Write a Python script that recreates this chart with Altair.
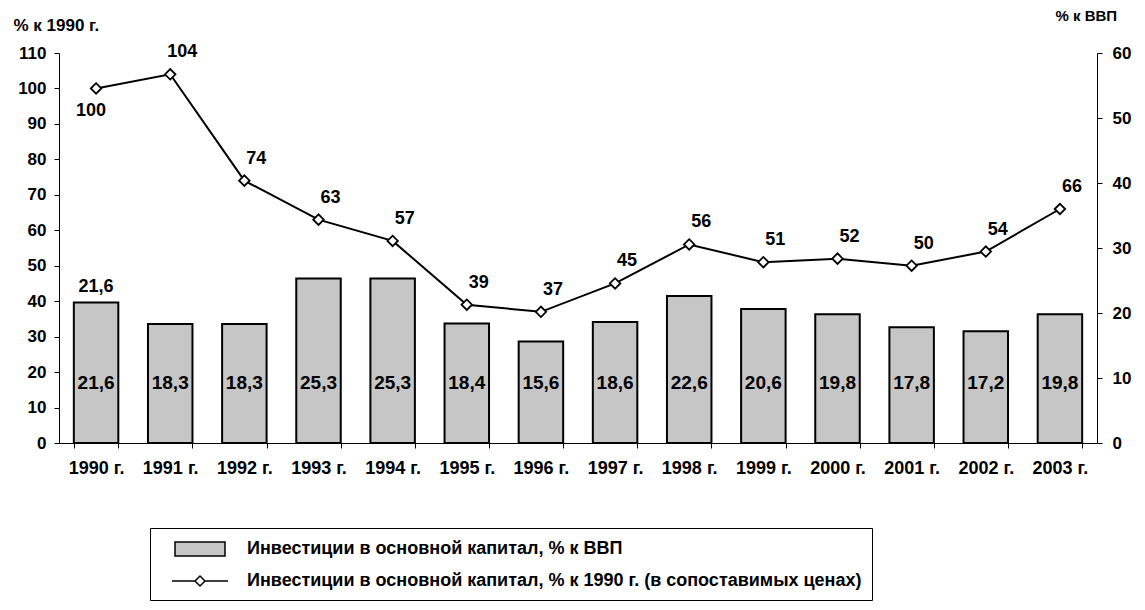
import altair as alt
import pandas as pd

years = ["1990 г.", "1991 г.", "1992 г.", "1993 г.", "1994 г.", "1995 г.", "1996 г.",
         "1997 г.", "1998 г.", "1999 г.", "2000 г.", "2001 г.", "2002 г.", "2003 г."]
gdp_share = [21.6, 18.3, 18.3, 25.3, 25.3, 18.4, 15.6, 18.6, 22.6, 20.6, 19.8, 17.8, 17.2, 19.8]
index_1990 = [100, 104, 74, 63, 57, 39, 37, 45, 56, 51, 52, 50, 54, 66]
legend_labels = [
    "Инвестиции в основной капитал, % к ВВП",
    "Инвестиции в основной капитал, % к 1990 г. (в сопоставимых ценах)",
]
left_ticks = list(range(0, 111, 10))
right_ticks = list(range(0, 61, 10))

df = pd.DataFrame({
    "year": years,
    "gdp": gdp_share,
    "gdp_label": [f"{v:.1f}".replace(".", ",") for v in gdp_share],
    "idx": index_1990,
})
leg_df = pd.DataFrame({"series": legend_labels})

FONT = "Liberation Sans"
W = "bold"
xscale = alt.Scale(domain=years, paddingInner=0.4, paddingOuter=0.2)
xaxis = alt.Axis(title=None, labelAngle=0, tickBand="extent", tickSize=5,
                 labelPadding=11, domainColor="black", tickColor="black",
                 labelColor="black", labelFont=FONT, labelFontSize=18, labelFontWeight=W)
xenc = alt.X("year:N", scale=xscale, sort=years, axis=xaxis)

rscale = alt.Scale(domain=[0, 60], nice=False, zero=True)
lscale = alt.Scale(domain=[0, 110], nice=False, zero=True)

raxis = alt.Axis(orient="right", values=right_ticks, tickSize=5, labelPadding=10,
                 grid=False, domainColor="black", tickColor="black",
                 labelColor="black", labelFont=FONT, labelFontSize=17, labelFontWeight=W,
                 title="% к ВВП", titleAngle=0, titleAlign="left",
                 titleBaseline="middle", titleX=-42, titleY=-38,
                 titleFont=FONT, titleFontSize=15, titleFontWeight=W,
                 titleColor="black")
laxis = alt.Axis(orient="left", values=left_ticks, tickSize=5, labelPadding=8,
                 grid=False, domainColor="black", tickColor="black",
                 labelColor="black", labelFont=FONT, labelFontSize=17, labelFontWeight=W,
                 title="% к 1990 г.", titleAngle=0, titleAlign="left",
                 titleBaseline="middle", titleX=-46, titleY=-28,
                 titleFont=FONT, titleFontSize=17, titleFontWeight=W,
                 titleColor="black")

base = alt.Chart(df)

bars = base.mark_bar(fill="#c6c6c6", stroke="black", strokeWidth=2).encode(
    x=xenc,
    y=alt.Y("gdp:Q", scale=rscale, axis=raxis),
)

bar_text = base.mark_text(font=FONT, fontSize=19, fontWeight="bold", color="black",
                          baseline="middle").encode(
    x=xenc,
    y=alt.Y(datum=9.3, scale=rscale, axis=raxis),
    text="gdp_label:N",
)

bar_text_top = base.transform_filter(alt.datum.year == years[0]).mark_text(
    font=FONT, fontSize=18, fontWeight=W, color="black", baseline="middle", dy=-16).encode(
    x=xenc,
    y=alt.Y("gdp:Q", scale=rscale, axis=raxis),
    text="gdp_label:N",
)

legend_layer = alt.Chart(leg_df).transform_filter("false").mark_point(
    filled=True, opacity=1, stroke="black", strokeWidth=1.5).encode(
    shape=alt.Shape("series:N", scale=alt.Scale(
        domain=legend_labels,
        range=["M-2.5,-0.7L2.5,-0.7L2.5,0.7L-2.5,0.7Z",
               "M-2.8,0L-0.5,0M0.5,0L2.8,0M-0.5,0L0,-0.5L0.5,0L0,0.5Z"])),
    fill=alt.Fill("series:N", scale=alt.Scale(domain=legend_labels,
                                               range=["#c6c6c6", "white"]),
                  legend=alt.Legend(title=None, orient="none", legendX=91, legendY=475,
                                    direction="vertical", symbolSize=400,
                                    symbolStrokeColor="black", symbolStrokeWidth=1.5,
                                    symbolOffset=29, labelOffset=36, rowPadding=11,
                                    padding=10, strokeColor="black", fillColor="white",
                                    labelFont=FONT, labelFontSize=18, labelFontWeight=W,
                                    labelColor="black", labelLimit=1200)),
)

bar_group = alt.layer(bars, bar_text, bar_text_top, legend_layer)

line = base.mark_line(color="black", strokeWidth=2).encode(
    x=xenc,
    y=alt.Y("idx:Q", scale=lscale, axis=laxis),
)
points = base.mark_point(shape="diamond", size=110, filled=True, fill="white",
                         stroke="black", strokeWidth=1.8, opacity=1).encode(
    x=xenc,
    y=alt.Y("idx:Q", scale=lscale, axis=laxis),
)
lab_first = base.transform_filter(alt.datum.year == years[0]).mark_text(
    font=FONT, fontSize=18, fontWeight=W, color="black", baseline="middle",
    dx=-5, dy=23).encode(
    x=xenc,
    y=alt.Y("idx:Q", scale=lscale, axis=laxis),
    text="idx:Q",
)
lab_rest = base.transform_filter(alt.datum.year != years[0]).mark_text(
    font=FONT, fontSize=18, fontWeight=W, color="black", baseline="middle",
    dx=12, dy=-22).encode(
    x=xenc,
    y=alt.Y("idx:Q", scale=lscale, axis=laxis),
    text="idx:Q",
)
line_group = alt.layer(line, points, lab_first, lab_rest)

chart = alt.layer(bar_group, line_group).resolve_scale(y="independent").properties(
    width=1038, height=390,
    autosize=alt.AutoSizeParams(type="none"),
    padding={"left": 51, "top": 45, "right": 40, "bottom": 159},
    background="white",
).configure_view(stroke=None)

chart.save("out.html", embed_options={"renderer": "svg", "actions": False})
